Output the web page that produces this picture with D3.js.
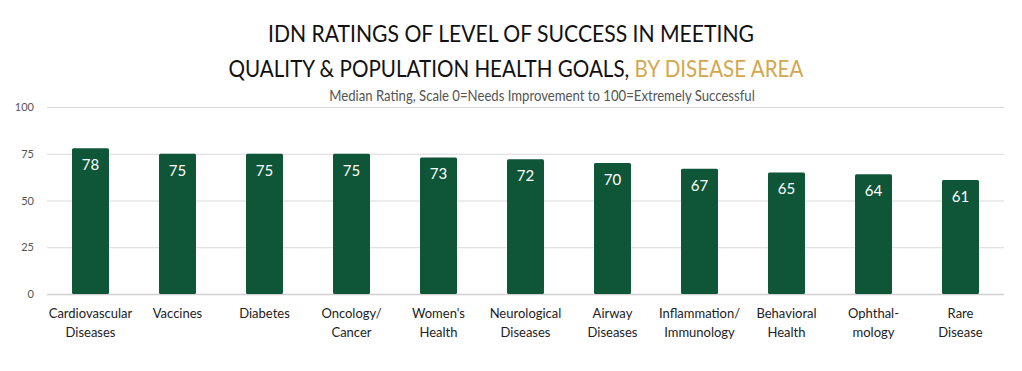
<!DOCTYPE html>
<html>
<head>
<meta charset="utf-8">
<script src="https://cdn.jsdelivr.net/npm/d3@7"></script>
<style>
  body { margin: 0; background: #fff; }
  text { font-family: Lato, sans-serif; }
</style>
</head>
<body>
<div id="chart"></div>
<script>
const categories = [
  ["Cardiovascular", "Diseases"],
  ["Vaccines"],
  ["Diabetes"],
  ["Oncology/", "Cancer"],
  ["Women's", "Health"],
  ["Neurological", "Diseases"],
  ["Airway", "Diseases"],
  ["Inflammation/", "Immunology"],
  ["Behavioral", "Health"],
  ["Ophthal-", "mology"],
  ["Rare", "Disease"]
];
const ratings = [78, 75, 75, 75, 73, 72, 70, 67, 65, 64, 61];
const yTicks = [0, 25, 50, 75, 100];

const width = 1022;
const height = 371;
const margin = { top: 107, right: 18, bottom: 77, left: 47 };
const barColor = "#0f5538";

const data = categories.map((c, i) => ({ key: c.join(" "), lines: c, value: ratings[i] }));

const svg = d3.select("#chart").append("svg")
  .attr("width", width)
  .attr("height", height)
  .style("background", "white");

// Title lines: the original uses a condensed face, so squeeze each line horizontally to its width
function titleLine(cx, y, size, targetWidth, parts) {
  const g = svg.append("g");
  const t = g.append("text")
    .attr("text-anchor", "middle")
    .attr("font-size", size + "px")
    .attr("fill", "#111");
  parts.forEach(p => t.append("tspan").attr("fill", p.color).text(p.text));
  const natural = t.node().getComputedTextLength();
  const k = Math.min(1, targetWidth / natural);
  g.attr("transform", `translate(${cx},${y}) scale(${k},1)`);
  return t;
}

titleLine(511, 42, 23, 486, [{ text: "IDN RATINGS OF LEVEL OF SUCCESS IN MEETING", color: "#111" }]);
titleLine(516, 77, 23, 575, [
  { text: "QUALITY & POPULATION HEALTH GOALS, ", color: "#111" },
  { text: "BY DISEASE AREA", color: "#d4a74e" }
]);
titleLine(542, 101, 15.5, 426, [{ text: "Median Rating, Scale 0=Needs Improvement to 100=Extremely Successful", color: "#555" }]);

const x = d3.scaleBand()
  .domain(data.map(d => d.key))
  .range([margin.left, width - margin.right])
  .paddingInner(0.575)
  .paddingOuter(0.2875);

const y = d3.scaleLinear()
  .domain([0, 100])
  .range([height - margin.bottom, margin.top]);

// Gridlines + y labels
const yAxis = svg.append("g")
  .attr("transform", `translate(${margin.left},0)`)
  .call(d3.axisLeft(y).tickValues(yTicks).tickSize(-(width - margin.left - margin.right)).tickPadding(13));
yAxis.select(".domain").remove();
yAxis.selectAll(".tick line").attr("stroke", "#d9d9d9");
yAxis.selectAll(".tick text")
  .attr("fill", "#555")
  .attr("font-size", "11px")
  .attr("font-family", "Lato, sans-serif");
yAxis.selectAll(".tick").filter(d => d === 0).select("line").attr("stroke", "#d0d0d0").attr("stroke-width", 1.5);

// Bars
svg.append("g").selectAll("rect")
  .data(data)
  .join("rect")
  .attr("x", d => x(d.key))
  .attr("y", d => y(d.value))
  .attr("width", x.bandwidth())
  .attr("height", d => y(0) - y(d.value))
  .attr("rx", 1.5)
  .attr("fill", barColor);

// Value labels
svg.append("g").selectAll("text")
  .data(data)
  .join("text")
  .attr("x", d => x(d.key) + x.bandwidth() / 2)
  .attr("y", d => y(d.value) + 22)
  .attr("text-anchor", "middle")
  .attr("font-size", "15px")
  .attr("fill", "#fff")
  .text(d => d.value);

// Category labels
const cat = svg.append("g").selectAll("text")
  .data(data)
  .join("text")
  .attr("x", d => x(d.key) + x.bandwidth() / 2)
  .attr("y", 318)
  .attr("text-anchor", "middle")
  .attr("font-size", "13px")
  .attr("fill", "#222");
cat.selectAll("tspan")
  .data(d => d.lines.map(l => ({ l, cx: x(d.key) + x.bandwidth() / 2 })))
  .join("tspan")
  .attr("x", d => d.cx)
  .attr("dy", (d, i) => i === 0 ? 0 : 19)
  .text(d => d.l);
</script>
</body>
</html>
